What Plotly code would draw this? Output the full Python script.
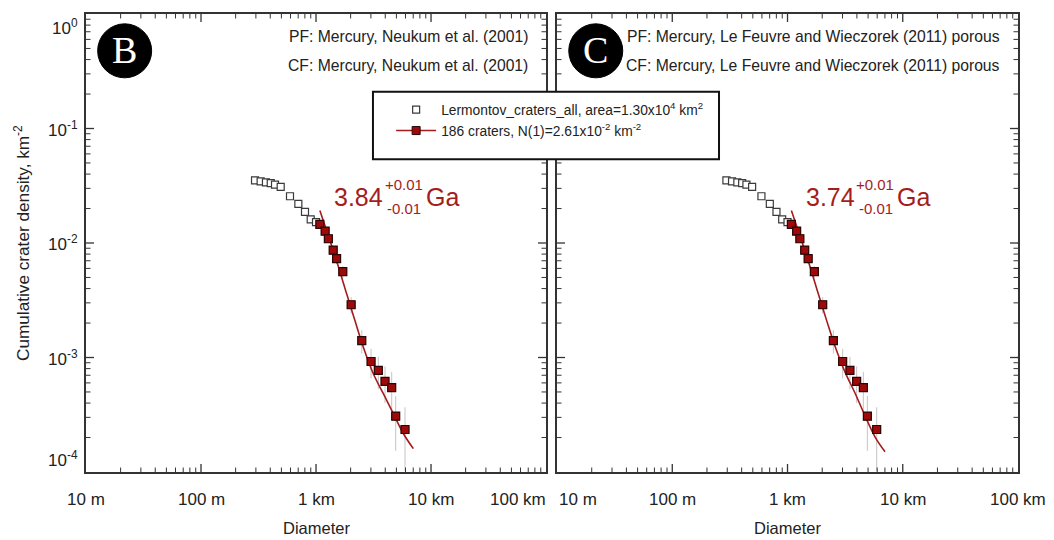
import math
import plotly.graph_objects as go

# Lermontov crater counts: cumulative density (km^-2) versus diameter (km)
all_diam = [0.295, 0.330, 0.367, 0.404, 0.440, 0.493, 0.594, 0.702, 0.802, 0.899, 1.00,
            1.08, 1.20, 1.28, 1.41, 1.51, 1.71, 2.02, 2.50, 3.01, 3.48, 3.98, 4.55, 4.93, 5.94]
all_dens = [0.0353, 0.0346, 0.0339, 0.0334, 0.0324, 0.0309, 0.0256, 0.0220, 0.0187, 0.0161, 0.0152,
            0.01455, 0.0127, 0.01089, 0.00865, 0.00730, 0.00563, 0.00289, 0.001406, 0.000923,
            0.000771, 0.000618, 0.000545, 0.000307, 0.000235]

# Bins used in the fit (186 craters) with their Poisson uncertainties
fit_diam = [1.08, 1.20, 1.28, 1.41, 1.51, 1.71, 2.02, 2.50, 3.01, 3.48, 3.98, 4.55, 4.93, 5.94]
fit_dens = [0.01455, 0.0127, 0.01089, 0.00865, 0.00730, 0.00563, 0.00289, 0.001406, 0.000923,
            0.000771, 0.000618, 0.000545, 0.000307, 0.000235]
fit_err = [0.00105, 0.000988, 0.000917, 0.000814, 0.00075, 0.000657, 0.000474, 0.000326,
           0.000266, 0.000243, 0.000218, 0.000204, 0.000154, 0.000133]

# Isochrones: Neukum et al. (2001) PF/CF (panel B), Le Feuvre & Wieczorek (2011) porous (panel C)
iso_B_diam = [1.08, 1.51, 1.85, 2.18, 2.58, 3.15, 3.85, 4.70, 5.74, 7.02]
iso_B_dens = [0.0192, 0.00697, 0.00358, 0.00210, 0.00123, 0.000722, 0.000483, 0.000324, 0.000217, 0.000160]
iso_C_diam = [1.08, 1.51, 1.85, 2.18, 2.58, 3.15, 3.85, 4.70, 5.74, 7.02]
iso_C_dens = [0.0192, 0.00700, 0.00360, 0.00212, 0.00126, 0.000750, 0.000490, 0.000310, 0.000203, 0.000150]

panels = [
    dict(tag="B", age="3.84", plus="+0.01", minus="-0.01",
         pf="PF: Mercury, Neukum et al. (2001)", cf="CF: Mercury, Neukum et al. (2001)",
         iso_d=iso_B_diam, iso_n=iso_B_dens),
    dict(tag="C", age="3.74", plus="+0.01", minus="-0.01",
         pf="PF: Mercury, Le Feuvre and Wieczorek (2011) porous",
         cf="CF: Mercury, Le Feuvre and Wieczorek (2011) porous",
         iso_d=iso_C_diam, iso_n=iso_C_dens),
]

X_RANGE = [-2, 2]   # log10 km: 10 m .. 100 km
Y_RANGE = [-4, 0]   # log10 km^-2
x_major = [0.01, 0.1, 1, 10, 100]
x_labels = ["10 m", "100 m", "1 km", "10 km", "100 km"]
y_major = [1, 0.1, 0.01, 0.001, 0.0001]
y_labels = ["10<sup>0</sup>", "10<sup>-1</sup>", "10<sup>-2</sup>", "10<sup>-3</sup>", "10<sup>-4</sup>"]
x_minor = [m * 10.0 ** e for e in range(-2, 2) for m in range(2, 10)]
y_minor = [m * 10.0 ** e for e in range(-4, 0) for m in range(2, 10)]

RED = "#a51c1c"
MARK_RED = "#9e0a0a"
INK = "#222222"
AXIS = "#333333"
FONT = "Liberation Sans"

legend_all = "Lermontov_craters_all, area=1.30x10<sup>4</sup> km<sup>2</sup>"
legend_fit = "186 craters, N(1)=2.61x10<sup>-2</sup> km<sup>-2</sup>"

fig = go.Figure()

for i, p in enumerate(panels):
    xa = "x" if i == 0 else "x2"
    ya = "y" if i == 0 else "y2"
    first = i == 0
    fig.add_trace(go.Scatter(
        x=all_diam, y=all_dens, mode="markers", xaxis=xa, yaxis=ya,
        marker=dict(symbol="square", size=7, color="white",
                    line=dict(color="#3a3a3a", width=1.2)),
        name=legend_all, showlegend=first, legendrank=1))
    fig.add_trace(go.Scatter(
        x=fit_diam, y=fit_dens, mode="markers", xaxis=xa, yaxis=ya,
        error_y=dict(type="data", array=fit_err, color="#c4c4c4", thickness=1, width=0),
        marker=dict(symbol="square", size=0.1, color="rgba(0,0,0,0)"),
        showlegend=False, hoverinfo="skip"))
    fig.add_trace(go.Scatter(
        x=p["iso_d"], y=p["iso_n"], mode="lines", xaxis=xa, yaxis=ya,
        line=dict(color=RED, width=1.6, shape="spline"), showlegend=False))
    fig.add_trace(go.Scatter(
        x=fit_diam, y=fit_dens, mode="markers", xaxis=xa, yaxis=ya,
        marker=dict(symbol="square", size=8, color=MARK_RED,
                    line=dict(color="#2a0505", width=1.2)),
        showlegend=False))

# legend entry for the fitted bins (line + marker)
fig.add_trace(go.Scatter(
    x=[None], y=[None], mode="lines+markers", name=legend_fit,
    line=dict(color=RED, width=1.6),
    marker=dict(symbol="square", size=8, color=MARK_RED, line=dict(color="#2a0505", width=1)),
    legendrank=2))

frame_axis = dict(
    type="log", showgrid=False, zeroline=False, showline=True, linecolor=AXIS, linewidth=1.5,
    mirror=True, ticks="", showticklabels=False,
)

LEFT = [0, 0.4936]
RIGHT = [0.5054, 1]
PLOT_W_PX = 932.0   # width of the paper area shared by both panels
PLOT_H_PX = 460.0

fig.update_layout(
    width=1054, height=540,
    margin=dict(l=86, r=36, t=12, b=68),
    paper_bgcolor="white", plot_bgcolor="white",
    font=dict(family=FONT, color=INK),
    xaxis=dict(frame_axis, range=X_RANGE, domain=LEFT, anchor="y"),
    yaxis=dict(frame_axis, range=Y_RANGE, domain=[0, 1], anchor="x"),
    xaxis2=dict(frame_axis, range=X_RANGE, domain=RIGHT, anchor="y2"),
    yaxis2=dict(frame_axis, range=Y_RANGE, domain=[0, 1], anchor="x2"),
    legend=dict(x=0.3274, y=0.825, xanchor="left", yanchor="top",
                bgcolor="rgba(0,0,0,0)", borderwidth=0,
                font=dict(family=FONT, size=13.8, color=INK),
                itemwidth=40, tracegroupgap=0),
    showlegend=True,
)


def inward_ticks(dom, xvals, yvals, length, width):
    """Tick marks pointing into a panel on all four sides, placed in paper units."""
    tick_line = dict(color=AXIS, width=width)
    ly = length / PLOT_H_PX
    lx = length / PLOT_W_PX
    for v in xvals:
        f = (math.log10(v) - X_RANGE[0]) / (X_RANGE[1] - X_RANGE[0])
        if not (0 < f < 1):
            continue
        px = dom[0] + f * (dom[1] - dom[0])
        for a, b in [(0, ly), (1 - ly, 1)]:
            fig.add_shape(type="line", xref="paper", yref="paper", x0=px, x1=px, y0=a, y1=b,
                          line=tick_line, layer="above")
    for v in yvals:
        f = (math.log10(v) - Y_RANGE[0]) / (Y_RANGE[1] - Y_RANGE[0])
        if not (0 < f < 1):
            continue
        for a, b in [(dom[0], dom[0] + lx), (dom[1] - lx, dom[1])]:
            fig.add_shape(type="line", xref="paper", yref="paper", x0=a, x1=b, y0=f, y1=f,
                          line=tick_line, layer="above")


for dom in [LEFT, RIGHT]:
    inward_ticks(dom, x_major, y_major, 8, 1.3)
    inward_ticks(dom, x_minor, y_minor, 4.5, 1)

# legend frame spanning both panels
fig.add_shape(type="rect", xref="paper", yref="paper",
              x0=0.3079, x1=0.6792, y0=0.6826, y1=0.8304,
              fillcolor="white", line=dict(color="#111111", width=2), layer="above")

annotations = []
for i, p in enumerate(panels):
    sfx = "" if i == 0 else "2"
    xd, yd = "x" + sfx + " domain", "y" + sfx + " domain"
    xr = "x" + sfx

    # panel badge
    fig.add_shape(type="circle", xref=xd, yref=yd, xsizemode="pixel", ysizemode="pixel",
                  xanchor=0.084, yanchor=0.9196, x0=-27, x1=27, y0=-27, y1=27,
                  fillcolor="black", line=dict(color="black", width=1), layer="above")
    annotations.append(dict(xref=xd, yref=yd, x=0.084, y=0.9196, text=p["tag"], showarrow=False,
                            xanchor="center", yanchor="middle", yshift=1,
                            font=dict(family="Liberation Serif", size=38, color="white")))

    # production / chronology function notes
    annotations.append(dict(xref=xd, yref=yd, x=1, y=(472 - 35) / 460, text=p["pf"],
                            showarrow=False, xanchor="right", yanchor="middle", xshift=-16,
                            font=dict(size=15.7, color=INK)))
    annotations.append(dict(xref=xd, yref=yd, x=1, y=(472 - 64) / 460, text=p["cf"],
                            showarrow=False, xanchor="right", yanchor="middle", xshift=-16,
                            font=dict(size=15.7, color=INK)))

    # model age label
    annotations.append(dict(xref=xd, yref=yd, x=0.535, y=0.6, text=p["age"], showarrow=False,
                            xanchor="left", yanchor="middle", font=dict(size=25, color=RED)))
    annotations.append(dict(xref=xd, yref=yd, x=0.645, y=(472 - 183) / 460, text=p["plus"],
                            showarrow=False, xanchor="left", yanchor="middle",
                            font=dict(size=15, color=RED)))
    annotations.append(dict(xref=xd, yref=yd, x=0.651, y=(472 - 207) / 460, text=p["minus"],
                            showarrow=False, xanchor="left", yanchor="middle",
                            font=dict(size=15, color=RED)))
    annotations.append(dict(xref=xd, yref=yd, x=0.734, y=0.6, text="Ga", showarrow=False,
                            xanchor="left", yanchor="middle", font=dict(size=25, color=RED)))

    # x tick labels
    for j, (v, lab) in enumerate(zip(x_major, x_labels)):
        anchor = "center"
        if i == 0 and j == len(x_major) - 1:
            anchor = "right"
        if i == 1 and j == 0:
            anchor = "left"
        annotations.append(dict(xref=xr, yref="paper", x=math.log10(v), y=(472 - 500) / 460,
                                text=lab, showarrow=False, xanchor=anchor, yanchor="middle",
                                xshift=2 if anchor == "right" else 0,
                                font=dict(size=17, color=INK)))

    annotations.append(dict(xref=xd, yref="paper", x=0.5, y=(472 - 528) / 460, text="Diameter",
                            showarrow=False, xanchor="center", yanchor="middle",
                            font=dict(size=16.5, color=INK)))

# y tick labels (left panel only)
for j, (v, lab) in enumerate(zip(y_major, y_labels)):
    yanc = "middle"
    if j == 0:
        yanc = "top"
    elif j == len(y_major) - 1:
        yanc = "bottom"
    annotations.append(dict(xref="x domain", yref="y", x=0, y=math.log10(v), text=lab,
                            showarrow=False, xanchor="right", yanchor=yanc, xshift=-6,
                            font=dict(size=17, color=INK)))

annotations.append(dict(xref="paper", yref="paper", x=(22 - 86) / 932, y=0.5,
                        text="Cumulative crater density, km<sup>-2</sup>", textangle=-90,
                        showarrow=False, xanchor="center", yanchor="middle",
                        font=dict(size=17.2, color=INK)))

fig.update_layout(annotations=annotations)
fig.write_html("out.html")
